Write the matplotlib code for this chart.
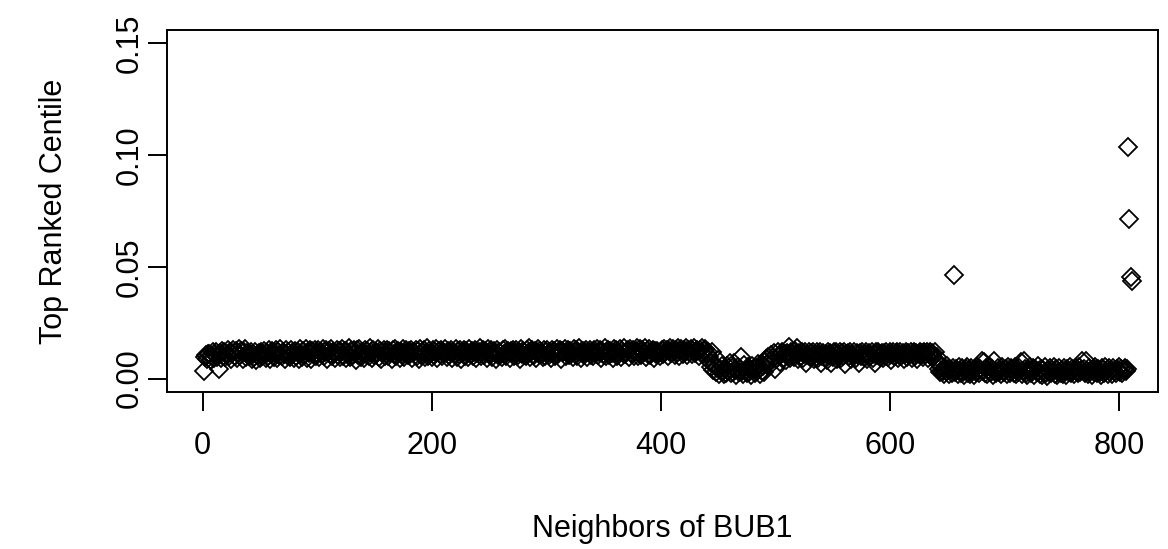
import numpy as np
import matplotlib
matplotlib.use("Agg")
import matplotlib.pyplot as plt

# Values, in units of 1e-4 (centile * 10000), one per neighbor index
SEG_A = [  # neighbors 1-440
    33, 96, 104, 88, 112, 109, 85, 100, 118, 92, 107, 121, 98, 45, 115, 90, 124, 103, 117, 95,
    110, 126, 99, 119, 87, 113, 129, 101, 122, 94, 116, 131, 105, 124, 89, 120, 133, 97, 114, 108,
    102, 118, 86, 111, 95, 121, 83, 106, 114, 90, 119, 99, 109, 125, 93, 116, 101, 128, 88, 112,
    123, 97, 115, 129, 91, 118, 106, 132, 100, 121, 112, 87, 127, 104, 119, 96, 130, 109, 117, 92,
    125, 103, 120, 89, 131, 111, 98, 124, 107, 133, 94, 118, 113, 127, 86, 122, 105, 129, 100, 116,
    128, 95, 121, 110, 134, 99, 117, 126, 88, 123, 108, 131, 102, 119, 114, 93, 127, 106, 124, 97,
    118, 132, 101, 125, 90, 120, 111, 136, 96, 122, 107, 129, 115, 85, 126, 104, 133, 98, 121, 112,
    94, 127, 109, 123, 100, 135, 117, 91, 128, 106, 120, 113, 131, 97, 124, 88, 119, 130, 103, 116,
    129, 99, 122, 114, 87, 126, 108, 133, 101, 118, 125, 92, 121, 110, 134, 96, 116, 127, 105, 123,
    111, 130, 93, 120, 117, 128, 102, 124, 89, 132, 107, 119, 126, 98, 115, 136, 100, 122, 113, 95,
    127, 104, 118, 131, 91, 123, 109, 129, 99, 121, 114, 134, 96, 125, 106, 117, 128, 93, 120, 110,
    133, 97, 124, 112, 126, 88, 119, 130, 103, 122, 116, 95, 131, 108, 125, 101, 118, 127, 92, 114,
    121, 135, 100, 117, 128, 106, 123, 90, 132, 111, 119, 126, 98, 124, 113, 87, 129, 105, 120, 116,
    96, 127, 109, 131, 102, 118, 125, 94, 122, 114, 130, 99, 116, 128, 107, 121, 89, 133, 110, 124,
    117, 100, 126, 113, 135, 97, 120, 129, 104, 123, 91, 118, 131, 108, 125, 112, 95, 127, 102, 119,
    130, 106, 121, 93, 128, 115, 124, 99, 132, 110, 119, 126, 88, 122, 117, 134, 101, 116, 129, 105,
    123, 112, 96, 131, 118, 127, 103, 120, 136, 94, 125, 109, 122, 114, 130, 98, 117, 128, 107, 121,
    99, 126, 115, 133, 104, 119, 129, 92, 124, 111, 135, 101, 118, 127, 106, 122, 116, 90, 131, 113,
    128, 103, 120, 132, 97, 125, 114, 138, 108, 121, 126, 95, 134, 117, 110, 129, 102, 123, 136, 99,
    115, 131, 106, 127, 120, 137, 98, 124, 112, 133, 104, 119, 128, 93, 125, 109, 122, 116, 101, 118,
    126, 110, 134, 117, 129, 102, 123, 138, 113, 121, 131, 107, 127, 119, 135, 100, 124, 132, 111, 128,
    120, 136, 105, 129, 118, 133, 109, 125, 137, 114, 122, 130, 103, 127, 116, 139, 108, 124, 131, 112,
]
SEG_B = [  # neighbors 441-495
    118, 96, 74, 52, 121, 38, 63, 29, 47, 85, 22, 41, 56, 33, 19, 44, 27, 58, 36, 71,
    24, 49, 31, 68, 40, 17, 53, 28, 45, 98, 34, 21, 62, 39, 26, 50, 30, 43, 18, 55,
    37, 25, 48, 32, 66, 42, 20, 35, 57, 29, 74, 88, 61, 95, 79,
]
SEG_C = [  # neighbors 496-640
    104, 70, 92, 113, 44, 86, 118, 99, 75, 108, 121, 94, 112, 83, 116, 102, 140, 90, 119, 107,
    97, 122, 110, 138, 88, 115, 101, 120, 93, 109, 117, 72, 106, 119, 95, 113, 100, 121, 87, 111,
    118, 91, 107, 120, 68, 103, 116, 96, 112, 84, 119, 105, 114, 70, 98, 121, 108, 117, 89, 110,
    120, 94, 113, 102, 118, 67, 109, 115, 99, 121, 86, 111, 104, 119, 92, 116, 106, 69, 114, 101,
    118, 97, 110, 121, 88, 107, 115, 100, 119, 93, 112, 72, 117, 105, 120, 95, 109, 114, 90, 116,
    103, 119, 96, 111, 121, 85, 108, 117, 99, 113, 120, 91, 106, 118, 102, 115, 88, 110, 119, 97,
    114, 107, 121, 93, 112, 118, 100, 116, 86, 109, 120, 104, 113, 95, 119, 108, 117, 90, 111, 121,
    102, 115, 98, 120, 84,
]
SEG_D = [  # neighbors 641-811
    96, 72, 43, 28, 51, 36, 22, 47, 33, 55, 41, 19, 38, 26, 49, 465, 30, 44, 21, 52,
    35, 24, 46, 31, 18, 42, 53, 27, 39, 22, 48, 34, 16, 45, 29, 51, 37, 23, 41, 78,
    33, 76, 26, 47, 20, 38, 52, 29, 44, 17, 79, 35, 25, 49, 31, 40, 21, 54, 36, 28,
    43, 19, 50, 32, 24, 46, 38, 27, 53, 22, 41, 30, 48, 75, 20, 35, 79, 44, 26, 14,
    39, 51, 23, 34, 47, 18, 42, 29, 55, 33, 21, 45, 16, 37, 50, 26, 13, 40, 31, 48,
    24, 36, 52, 20, 43, 15, 30, 46, 27, 39, 22, 49, 34, 17, 41, 28, 53, 25, 44, 32,
    19, 47, 35, 23, 50, 30, 38, 77, 45, 26, 80, 33, 21, 48, 36, 14, 42, 29, 51, 37,
    25, 44, 31, 18, 49, 40, 27, 54, 34, 22, 46, 30, 39, 20, 48, 35, 26, 43, 32, 50,
    28, 41, 23, 37, 46, 33, 44, 1035, 712, 455, 435,
]
X_TICKS = [0, 200, 400, 600, 800]
Y_TICKS = [0.00, 0.05, 0.10, 0.15]
Y_TICKLABELS = ["0.00", "0.05", "0.10", "0.15"]
XLABEL = "Neighbors of BUB1"
YLABEL = "Top Ranked Centile"

plt.rcParams["font.family"] = ["Liberation Sans", "DejaVu Sans"]
FS = 22

y = np.array(SEG_A + SEG_B + SEG_C + SEG_D, dtype=float) / 1e4
x = np.arange(1, len(y) + 1)

W, H = 1168, 549
fig = plt.figure(figsize=(W / 100, H / 100), dpi=100)
# plot box in pixels: left 167, right 1158, top 30, bottom 392
ax = fig.add_axes([167 / W, 1 - 392 / H, (1158 - 167) / W, (392 - 30) / H])

ax.plot(x, y, linestyle="none", marker="D", markersize=9.2,
        markerfacecolor="none", markeredgecolor="black", markeredgewidth=1.3)

ax.set_xlim(-31, 834)
ax.set_ylim(-0.006, 0.156)
ax.set_xticks(X_TICKS)
ax.set_xticklabels([str(t) for t in X_TICKS])
ax.set_yticks(Y_TICKS)
ax.set_yticklabels(Y_TICKLABELS, rotation=90, va="center")

ax.tick_params(axis="both", direction="out", length=14, width=1.4,
               labelsize=FS, color="black")
ax.tick_params(axis="x", pad=14)
ax.tick_params(axis="y", pad=2)
for sp in ax.spines.values():
    sp.set_linewidth(1.4)

ax.set_xlabel(XLABEL, fontsize=FS, labelpad=38)
ax.set_ylabel(YLABEL, fontsize=FS, labelpad=33)

fig.savefig("out.png", dpi=100)
